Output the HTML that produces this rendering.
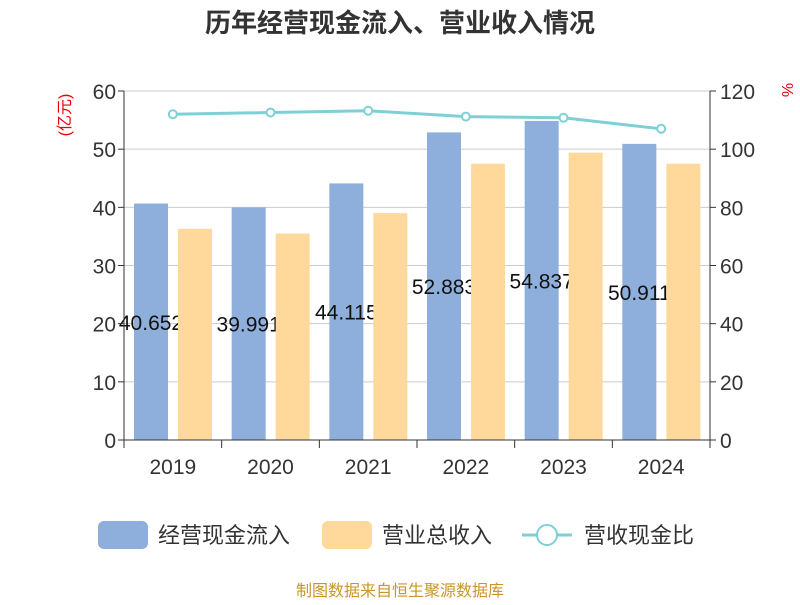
<!DOCTYPE html>
<html><head><meta charset="utf-8"><style>body{margin:0;background:#fff}svg{font-family:"Liberation Sans","Noto Sans CJK SC",sans-serif}</style></head>
<body>
<svg id="c" width="800" height="600">
<text x="400" y="32" text-anchor="middle" font-size="26" font-weight="bold" fill="#333">历年经营现金流入、营业收入情况</text>
<text transform="translate(70,115) rotate(-90)" text-anchor="middle" font-size="16" fill="#e00">(亿元)</text>
<text transform="translate(782,90) rotate(90)" text-anchor="middle" font-size="16" fill="#e00">%</text>
<g id="grid"></g><g id="bars"></g><g id="axes"></g><g id="line"></g>
<g>
<rect x="98" y="521" width="50" height="28" rx="6" fill="#8eaedb"/>
<text x="158" y="543" font-size="22" fill="#333">经营现金流入</text>
<rect x="322" y="521" width="50" height="28" rx="6" fill="#fed99b"/>
<text x="382" y="543" font-size="22" fill="#333">营业总收入</text>
<line x1="522" y1="535" x2="572" y2="535" stroke="#7fd0d4" stroke-width="3"/>
<circle cx="547" cy="535" r="10" fill="#fff" stroke="#7fd0d4" stroke-width="2"/>
<text x="584" y="543" font-size="22" fill="#333">营收现金比</text>
</g>
<text x="400" y="596" text-anchor="middle" font-size="16" fill="#c8962a">制图数据来自恒生聚源数据库</text>
</svg>
<script>
const categories=["2019","2020","2021","2022","2023","2024"];
const cashIn=[40.652,39.991,44.115,52.883,54.837,50.911];
const revenue=[36.3,35.5,39.0,47.5,49.4,47.5];
const ratio=[112,112.6,113.2,111.2,110.8,107.0];
const leftTicks=[0,10,20,30,40,50,60];
const rightTicks=[0,20,40,60,80,100,120];
const NS="http://www.w3.org/2000/svg";
const X0=124,X1=710,Y0=440,Y1=91;
const band=(X1-X0)/categories.length;
const yL=v=>Y0-v/60*(Y0-Y1), yR=v=>Y0-v/120*(Y0-Y1);
function mk(p,tag,a,txt){const e=document.createElementNS(NS,tag);for(const k in a)e.setAttribute(k,a[k]);if(txt!==undefined)e.textContent=txt;document.getElementById(p).appendChild(e);return e;}
leftTicks.forEach((t,i)=>{
 if(t>0){const g=mk('grid','line',{x1:X0,x2:X1,y1:yL(t),y2:yL(t),stroke:'#ccc','stroke-width':1});}
 const a=mk('axes','text',{x:X0-8,y:yL(t)+8,'text-anchor':'end','font-size':21,fill:'#333'},t);
 mk('axes','line',{x1:X0-6,x2:X0,y1:yL(t),y2:yL(t),stroke:'#333'});
 const r=mk('axes','text',{x:X1+10,y:yR(rightTicks[i])+8,'font-size':21,fill:'#333'},rightTicks[i]);
 mk('axes','line',{x1:X1,x2:X1+6,y1:yR(rightTicks[i]),y2:yR(rightTicks[i]),stroke:'#333'});
});
mk('axes','line',{x1:X0,x2:X0,y1:Y1,y2:Y0,stroke:'#333'});
mk('axes','line',{x1:X1,x2:X1,y1:Y1,y2:Y0,stroke:'#333'});
mk('axes','line',{x1:X0,x2:X1,y1:Y0,y2:Y0,stroke:'#333'});
categories.forEach((c,i)=>{
 const bx=X0+i*band;
 mk('axes','line',{x1:bx,x2:bx,y1:Y0,y2:Y0+8,stroke:'#333'});
 if(i==categories.length-1)mk('axes','line',{x1:X1,x2:X1,y1:Y0,y2:Y0+8,stroke:'#333'});
 const t=mk('axes','text',{x:bx+band/2,y:474,'text-anchor':'middle','font-size':21,fill:'#333'},c);
 const b=mk('bars','rect',{x:bx+10,y:yL(cashIn[i]),width:34,height:Y0-yL(cashIn[i]),fill:'#8eaedb'});
 
 const l=mk('bars','text',{x:bx+27,y:(yL(cashIn[i])+Y0)/2+8,'text-anchor':'middle','font-size':21,fill:'#111'},cashIn[i].toFixed(3));
 
});
categories.forEach((c,i)=>{
 const bx=X0+i*band;
 const b=mk('bars','rect',{x:bx+54,y:yL(revenue[i]),width:34,height:Y0-yL(revenue[i]),fill:'#fed99b'});
 
});
const pts=ratio.map((v,i)=>(X0+(i+0.5)*band)+','+yR(v)).join(' ');
const pl=mk('line','polyline',{points:pts,fill:'none',stroke:'#7fd0d4','stroke-width':3});

ratio.forEach((v,i)=>{const p=mk('line','circle',{cx:X0+(i+0.5)*band,cy:yR(v),r:4,fill:'#fff',stroke:'#7fd0d4','stroke-width':2});
 });
</script>
</body></html>
